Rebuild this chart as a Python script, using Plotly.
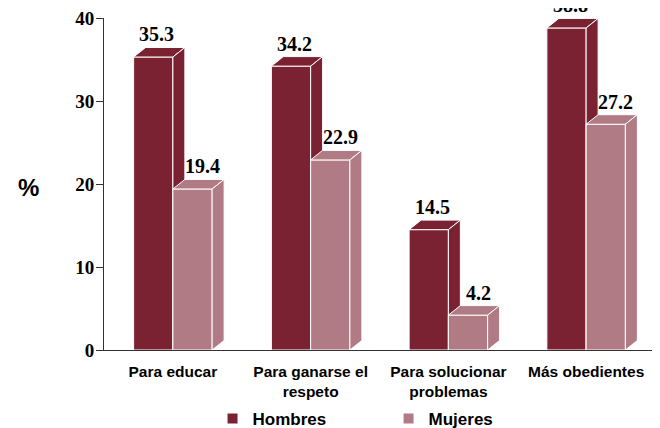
import plotly.graph_objects as go

categories = ["Para educar", "Para ganarse el<br>respeto", "Para solucionar<br>problemas", "Más obedientes"]
series_names = ["Hombres", "Mujeres"]
hombres = [35.3, 34.2, 14.5, 38.8]
mujeres = [19.4, 22.9, 4.2, 27.2]
y_ticks = [0, 10, 20, 30, 40]

colors = {"Hombres": "#7B2232", "Mujeres": "#B07B84"}
W = 0.285   # front face width (category units)
DX = 0.087  # depth in x
DY = 1.15   # depth in y (value units)

fig = go.Figure()
annotations = []
for i in range(len(categories)):
    for name, vals, off, lab_shift in [("Hombres", hombres, -W, 0.3), ("Mujeres", mujeres, 0.0, 0.85)]:
        v = vals[i]
        x0 = i + off
        x1 = x0 + W
        faces = [
            ([x0, x1, x1, x0, x0], [0, 0, v, v, 0]),
            ([x0, x1, x1 + DX, x0 + DX, x0], [v, v, v + DY, v + DY, v]),
            ([x1, x1 + DX, x1 + DX, x1, x1], [0, DY, v + DY, v, 0]),
        ]
        for fx, fy in faces:
            fig.add_trace(go.Scatter(
                x=fx, y=fy, mode="lines", fill="toself",
                fillcolor=colors[name], line=dict(color="white", width=1),
                hoverinfo="skip", showlegend=False))
        annotations.append(dict(
            x=x0 + W / 2 + DX * lab_shift, y=v + DY, xref="x", yref="y",
            text=f"{v:.1f}", showarrow=False, yanchor="bottom", yshift=0,
            font=dict(family="Liberation Serif", size=20, color="black", weight="bold")))

for name in series_names:
    fig.add_trace(go.Scatter(
        x=[None], y=[None], mode="markers", name=name,
        marker=dict(symbol="square", size=10, color=colors[name])))

# page body has an 8px margin: figure is placed at (8, 8)
annotations.append(dict(
    x=(20 - 96) / 551, y=(342 - 180) / 332, xref="paper", yref="paper",
    xanchor="center", yanchor="middle",
    text="%", showarrow=False,
    font=dict(family="Liberation Sans", size=24, color="black", weight="bold")))

fig.update_layout(
    width=652, height=420,
    margin=dict(l=96, r=5, t=10, b=78, autoexpand=False),
    plot_bgcolor="white", paper_bgcolor="white",
    annotations=annotations,
    showlegend=True,
    legend=dict(
        orientation="h", x=0.197, xanchor="left",
        y=-69 / 332, yanchor="middle",
        entrywidth=131, entrywidthmode="pixels",
        font=dict(family="Liberation Sans", size=17, color="black", weight="bold"),
        bgcolor="rgba(0,0,0,0)"),
    xaxis=dict(
        range=[-0.5, 3.5], tickvals=list(range(len(categories))), ticktext=categories,
        showline=True, linecolor="#333333", linewidth=1, showgrid=False, zeroline=False,
        ticks="", fixedrange=True, automargin=False, ticklabelstandoff=7,
        ticklabeloverflow="allow",
        tickfont=dict(family="Liberation Sans", size=15.5, color="black", weight="bold")),
    yaxis=dict(
        range=[0, 40], tickvals=y_ticks, showline=True, linecolor="#333333", linewidth=1,
        ticks="outside", ticklen=7, tickcolor="#333333", showgrid=False, zeroline=False,
        automargin=False, ticklabelstandoff=-2, ticklabeloverflow="allow",
        tickfont=dict(family="Liberation Serif", size=19, color="black", weight="bold")),
)

fig.write_html("out.html")
